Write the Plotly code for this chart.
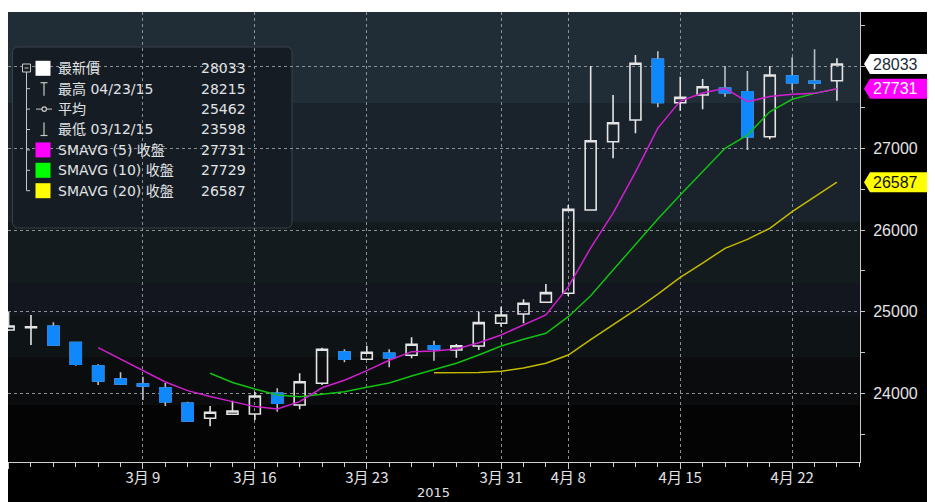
import plotly.graph_objects as go

# ---------------- data ----------------
dates = ["2015-02-27", "2015-03-02", "2015-03-03", "2015-03-04", "2015-03-05", "2015-03-06",
         "2015-03-09", "2015-03-10", "2015-03-11", "2015-03-12", "2015-03-13",
         "2015-03-16", "2015-03-17", "2015-03-18", "2015-03-19", "2015-03-20",
         "2015-03-23", "2015-03-24", "2015-03-25", "2015-03-26", "2015-03-27",
         "2015-03-30", "2015-03-31", "2015-04-01", "2015-04-02",
         "2015-04-08", "2015-04-09", "2015-04-10",
         "2015-04-13", "2015-04-14", "2015-04-15", "2015-04-16", "2015-04-17",
         "2015-04-20", "2015-04-21", "2015-04-22", "2015-04-23", "2015-04-24"]

opens = [24777, 24805, 24822, 24622, 24337, 24177, 24116, 24067, 23880, 23696, 23745,
         23749, 24002, 23859, 24125, 24508, 24419, 24492, 24468, 24585, 24532,
         24581, 24859, 24973, 25116, 25226, 26246, 27082,
         27348, 28091, 27559, 27654, 27736, 27694, 27143, 27886, 27822, 27829]
highs = [24998, 24962, 24871, 24625, 24357, 24260, 24206, 24128, 23900, 23847, 23912,
         24018, 24064, 24247, 24560, 24541, 24585, 24541, 24688, 24646, 24606,
         25001, 25062, 25153, 25340, 26307, 28008, 27654,
         28143, 28190, 27878, 27849, 28008, 27947, 28008, 28115, 28215, 28103]
lows = [24765, 24594, 24590, 24340, 24104, 24104, 23920, 23846, 23660, 23598, 23740,
        23675, 23777, 23807, 24104, 24382, 24416, 24321, 24431, 24401, 24438,
        24532, 24818, 24859, 25110, 25193, 26240, 26879,
        27185, 27503, 27461, 27479, 27633, 26980, 27111, 27715, 27723, 27584]
closes = [24826, 24815, 24594, 24357, 24153, 24116, 24092, 23900, 23663, 23770, 23786,
          23969, 23880, 24144, 24541, 24419, 24504, 24438, 24602, 24545, 24585,
          24867, 24961, 25104, 25234, 26254, 27094, 27315,
          28042, 27564, 27625, 27755, 27682, 27143, 27898, 27804, 27802, 28033]

sma5 = [None] * 4 + [24561, 24421, 24275, 24140, 24035, 23962, 23900, 23839, 23810, 23900,
                     24070, 24162, 24279, 24406, 24512, 24520, 24545, 24622, 24716, 24838,
                     24961, 25304, 25782, 26207, 26709, 27249, 27580, 27678, 27736, 27572,
                     27635, 27662, 27674, 27731]
sma10 = [None] * 9 + [24247, 24135, 24055, 23982, 23961, 23990, 24022, 24076, 24128, 24214,
                      24296, 24370, 24471, 24581, 24663, 24737, 24940, 25195, 25511, 25830,
                      26136, 26430, 26712, 27001, 27163, 27449, 27601, 27674, 27729]
sma20 = [None] * 19 + [24255, 24255, 24257, 24272, 24312, 24370, 24470, 24660, 24838, 25022,
                       25217, 25422, 25597, 25777, 25887, 26022, 26225, 26409, 26587]

label_dates = ["2015-03-09", "2015-03-16", "2015-03-23", "2015-03-31",
               "2015-04-08", "2015-04-15", "2015-04-22"]
label_text = ["3月 9", "3月 16", "3月 23", "3月 31", "4月 8", "4月 15", "4月 22"]
y_ticks = [24000, 25000, 26000, 27000, 28000]
y_ticktext = ["24000", "25000", "26000", "27000", ""]  # 28000 sits under the price tag
year_label = "2015"

legend_labels = ["最新價", "最高 04/23/15", "平均", "最低 03/12/15",
                 "SMAVG (5) 收盤", "SMAVG (10) 收盤", "SMAVG (20) 收盤"]
legend_values = ["28033", "28215", "25462", "23598", "27731", "27729", "26587"]

tag_values = [28033, 27731, 26587]
tag_texts = ["28033", "27731", "26587"]

# ---------------- geometry helpers (page pixels; page body has an 8px margin) ----------------
OFF = 8
FIG_W, FIG_H = 935 - OFF, 502 - OFF
L, R, T, B = 8, 860, 12, 462          # plot area in page pixels


def xp(px):
    return (px - L) / (R - L)


def yp(py):
    return (B - py) / (B - T)


pos = list(range(len(dates)))
X_RANGE = [-0.027, 38.03]
Y_RANGE = [23161, 28670]
units_per_px = (Y_RANGE[1] - Y_RANGE[0]) / (B - T)

UP_LINE = "#e4e4e4"
DOWN_FILL = "#0f88fb"
GRID = "#8a9096"
TXT = "#e0e3e6"
LEG_BG = "#161c23"

fig = go.Figure()

# candles: wicks/outline
fig.add_trace(go.Candlestick(
    x=pos, open=opens, high=highs, low=lows, close=closes,
    increasing=dict(line=dict(color=UP_LINE, width=1.6), fillcolor="rgba(0,0,0,0)"),
    decreasing=dict(line=dict(color="#b9c0c7", width=1.6), fillcolor=DOWN_FILL),
    whiskerwidth=0, showlegend=False, hoverinfo="skip"))

# blue bodies drawn again so their outline is blue
dn = [i for i in pos if closes[i] < opens[i]]
fig.add_trace(go.Candlestick(
    x=[pos[i] for i in dn],
    open=[opens[i] for i in dn], close=[closes[i] for i in dn],
    high=[opens[i] for i in dn], low=[closes[i] for i in dn],
    increasing=dict(line=dict(color=DOWN_FILL, width=1.6), fillcolor=DOWN_FILL),
    decreasing=dict(line=dict(color=DOWN_FILL, width=1.6), fillcolor=DOWN_FILL),
    whiskerwidth=0, showlegend=False, hoverinfo="skip"))

# moving averages
for ys, col in [(sma20, "#c4bb00"), (sma10, "#12c212"), (sma5, "#d020d0")]:
    fig.add_trace(go.Scatter(x=pos, y=ys, mode="lines", line=dict(color=col, width=1.5),
                             showlegend=False, hoverinfo="skip"))

# white pointer triangles on the right axis
fig.add_trace(go.Scatter(x=[X_RANGE[1] + 5 / 22.39] * len(y_ticks), y=y_ticks, mode="markers",
                         marker=dict(symbol="triangle-right", size=8, color="white"),
                         cliponaxis=False, showlegend=False, hoverinfo="skip"))

shapes = []
# black chart backdrop (white strip at the very top)
shapes.append(dict(type="rect", xref="paper", yref="paper", x0=xp(L), x1=xp(940),
                   y0=yp(510), y1=yp(T), fillcolor="#000000", line=dict(width=0), layer="below"))
# background bands
bands = [(T, 103, "#202c36"), (103, 222, "#1a222b"), (222, 283, "#141b1e"),
         (283, 316, "#13151f"), (316, 357, "#0e1315"), (357, 405, "#0a0c0e"), (405, B, "#040405")]
for y0, y1, c in bands:
    shapes.append(dict(type="rect", xref="paper", yref="paper", x0=0, x1=1,
                       y0=yp(y1), y1=yp(y0), fillcolor=c, line=dict(width=0), layer="below"))


# legend box (rounded)
def rrect(x0, y0, x1, y1, r):
    ax, bx = xp(x0), xp(x1)
    ay, by = yp(y0), yp(y1)
    rx = r / (R - L)
    ry = r / (B - T)
    return (f"M {ax + rx},{ay} L {bx - rx},{ay} Q {bx},{ay} {bx},{ay - ry} "
            f"L {bx},{by + ry} Q {bx},{by} {bx - rx},{by} L {ax + rx},{by} "
            f"Q {ax},{by} {ax},{by + ry} L {ax},{ay - ry} Q {ax},{ay} {ax + rx},{ay} Z")


shapes.append(dict(type="path", xref="paper", yref="paper", path=rrect(12.5, 47, 292, 228, 6),
                   fillcolor=LEG_BG, line=dict(color="#3a4048", width=1), layer="below"))

ROW0, ROWSTEP = 68.3, 20.4
row_y = [ROW0 + ROWSTEP * i for i in range(len(legend_labels))]
TREE = "#c8c8c8"
# tree vertical line and branches
shapes.append(dict(type="line", xref="paper", yref="paper", x0=xp(26.5), x1=xp(26.5),
                   y0=yp(72), y1=yp(row_y[-1]), line=dict(color=TREE, width=1), layer="above"))
for ry in row_y[1:]:
    shapes.append(dict(type="line", xref="paper", yref="paper", x0=xp(26.5), x1=xp(30),
                       y0=yp(ry), y1=yp(ry), line=dict(color=TREE, width=1), layer="above"))
# collapse box
shapes.append(dict(type="rect", xref="paper", yref="paper", x0=xp(22.5), x1=xp(30.5),
                   y0=yp(72), y1=yp(64), fillcolor=LEG_BG, line=dict(color=TREE, width=1),
                   layer="above"))
shapes.append(dict(type="line", xref="paper", yref="paper", x0=xp(24.5), x1=xp(28.5),
                   y0=yp(68), y1=yp(68), line=dict(color=TREE, width=1), layer="above"))
# colored squares
for ry, c in [(row_y[0], "#ffffff"), (row_y[4], "#ff00ff"), (row_y[5], "#00ff00"), (row_y[6], "#ffff00")]:
    shapes.append(dict(type="rect", xref="paper", yref="paper", x0=xp(35.5), x1=xp(50.5),
                       y0=yp(ry + 7.5), y1=yp(ry - 7.5), fillcolor=c, line=dict(width=0),
                       layer="above"))
# high icon (T)
shapes.append(dict(type="line", xref="paper", yref="paper", x0=xp(44), x1=xp(44),
                   y0=yp(row_y[1] - 6), y1=yp(row_y[1] + 7), line=dict(color=TREE, width=1.2), layer="above"))
shapes.append(dict(type="line", xref="paper", yref="paper", x0=xp(40.5), x1=xp(47.5),
                   y0=yp(row_y[1] - 6), y1=yp(row_y[1] - 6), line=dict(color=TREE, width=1.2), layer="above"))
# average icon
shapes.append(dict(type="line", xref="paper", yref="paper", x0=xp(36), x1=xp(52),
                   y0=yp(row_y[2]), y1=yp(row_y[2]), line=dict(color=TREE, width=1), layer="above"))
shapes.append(dict(type="circle", xref="paper", yref="paper", x0=xp(42), x1=xp(46.5),
                   y0=yp(row_y[2] + 2.3), y1=yp(row_y[2] - 2.3), fillcolor=LEG_BG,
                   line=dict(color=TREE, width=1.2), layer="above"))
# low icon (inverted T)
shapes.append(dict(type="line", xref="paper", yref="paper", x0=xp(44), x1=xp(44),
                   y0=yp(row_y[3] - 7), y1=yp(row_y[3] + 6), line=dict(color=TREE, width=1.2), layer="above"))
shapes.append(dict(type="line", xref="paper", yref="paper", x0=xp(40.5), x1=xp(47.5),
                   y0=yp(row_y[3] + 6), y1=yp(row_y[3] + 6), line=dict(color=TREE, width=1.2), layer="above"))

# value tags on the right
tag_styles = [("#ffffff", "#1c2a3a"), ("#ff00ff", "#ffffff"), ("#ffff00", "#111111")]
hh = 10 * units_per_px
annotations = []
for v, t, (bg, fg) in zip(tag_values, tag_texts, tag_styles):
    path = (f"M {xp(864)},{v} L {xp(870)},{v + hh} L {xp(933)},{v + hh} "
            f"L {xp(933)},{v - hh} L {xp(870)},{v - hh} Z")
    shapes.append(dict(type="path", xref="paper", yref="y", path=path, fillcolor=bg,
                       line=dict(width=0), layer="above"))
    annotations.append(dict(x=xp(871), y=v, xref="paper", yref="y", text=t, showarrow=False,
                            xanchor="left", yanchor="middle",
                            font=dict(family="Liberation Sans", size=16, color=fg)))

# legend texts, one annotation per row
LAB_FONT = dict(family="DejaVu Sans, Noto Sans CJK TC", size=14, color=TXT)
VAL_FONT = dict(family="DejaVu Sans", size=14, color=TXT)
for ry, lab, val in zip(row_y, legend_labels, legend_values):
    annotations.append(dict(x=xp(56), y=yp(ry), xref="paper", yref="paper", text=lab,
                            showarrow=False, xanchor="left", yanchor="middle", font=LAB_FONT))
    annotations.append(dict(x=xp(248), y=yp(ry), xref="paper", yref="paper", text=val,
                            showarrow=False, xanchor="right", yanchor="middle", font=VAL_FONT))

annotations.append(dict(x=xp(433), y=yp(492), xref="paper", yref="paper", text=year_label,
                        showarrow=False, xanchor="center", yanchor="middle",
                        font=dict(family="DejaVu Sans", size=13, color=TXT)))

tickvals_x = [0] + [dates.index(d) for d in label_dates]
ticktext_x = [""] + label_text

fig.update_layout(
    width=FIG_W, height=FIG_H,
    margin=dict(l=L - OFF, r=935 - R, t=T - OFF, b=502 - B, pad=0),
    paper_bgcolor="white", plot_bgcolor="black",
    shapes=shapes, annotations=annotations,
    showlegend=False,
    xaxis=dict(
        range=X_RANGE, tickmode="array", tickvals=tickvals_x, ticktext=ticktext_x,
        showgrid=True, gridcolor=GRID, griddash="dot", gridwidth=1,
        showline=True, linecolor="#d0d0d0", linewidth=1,
        ticks="outside", ticklen=6, tickcolor="#d0d0d0", tickwidth=1,
        minor=dict(tickmode="linear", tick0=0, dtick=1, ticks="outside", ticklen=4,
                   tickcolor="#d0d0d0", showgrid=False),
        tickfont=dict(family="Noto Sans CJK TC", size=15, color=TXT),
        ticklabelstandoff=-4,
        zeroline=False, rangeslider=dict(visible=False), fixedrange=True),
    yaxis=dict(
        side="right", range=Y_RANGE, tickmode="array", tickvals=y_ticks,
        ticktext=y_ticktext,
        showgrid=True, gridcolor=GRID, griddash="dot", gridwidth=1,
        showline=True, linecolor="#c8c8c8", linewidth=1,
        ticks="outside", ticklen=9, tickcolor="rgba(0,0,0,0)",
        minor=dict(tickmode="linear", tick0=0, dtick=500, ticks="outside", ticklen=4,
                   tickcolor="#c8c8c8", showgrid=False),
        tickfont=dict(family="Liberation Sans", size=16, color=TXT),
        zeroline=False, fixedrange=True),
)

fig.write_html("out.html", config={"displayModeBar": False})
